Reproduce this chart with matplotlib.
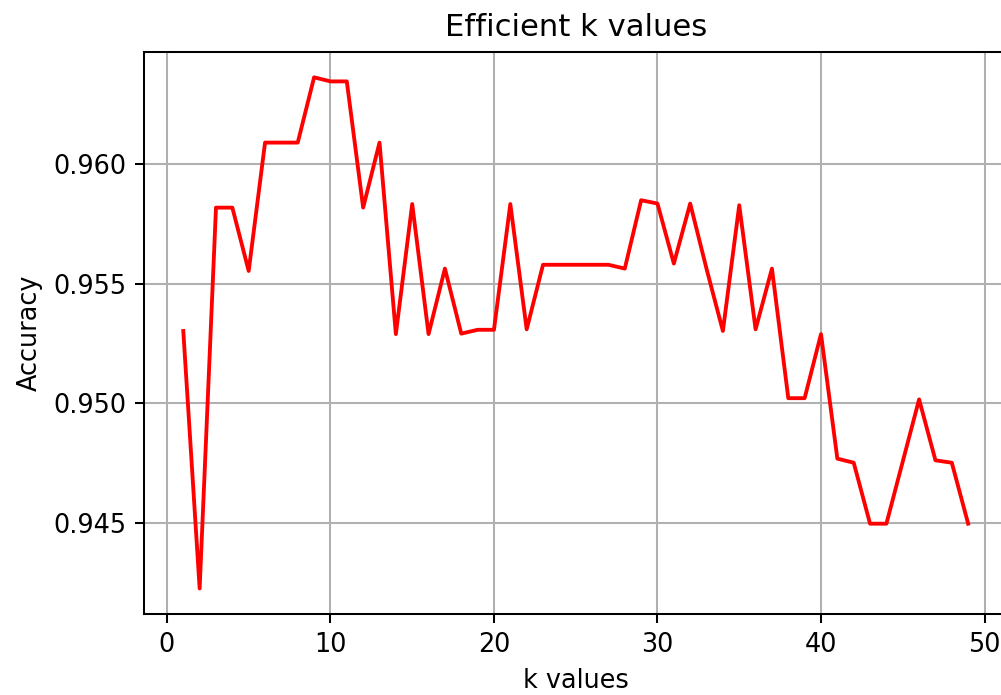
import numpy as np
import matplotlib
matplotlib.use("Agg")
import matplotlib.pyplot as plt

# accuracy of the classifier for each k
k_values = list(range(1, 50))
accuracy = [
    0.95302, 0.94225, 0.95818, 0.95818, 0.95553, 0.96090, 0.96090, 0.96090,
    0.96363, 0.96346, 0.96346, 0.95818, 0.96090, 0.95289, 0.95833, 0.95289,
    0.95563, 0.95291, 0.95307, 0.95307, 0.95833, 0.95309, 0.95579, 0.95579,
    0.95579, 0.95579, 0.95579, 0.95563, 0.95849, 0.95835, 0.95584, 0.95835,
    0.95562, 0.95302, 0.95828, 0.95309, 0.95563, 0.95021, 0.95021, 0.95289,
    0.94768, 0.94751, 0.94496, 0.94496, 0.94756, 0.95016, 0.94761, 0.94751,
    0.94496,
]

fig = plt.figure(figsize=(1001 / 184, 695 / 184), dpi=184)
ax = fig.add_axes([0.1439, 0.1165, 0.8625, 0.809])

ax.plot(k_values, accuracy, color="red")
ax.set_title("Efficient k values")
ax.set_xlabel("k values")
ax.set_ylabel("Accuracy")
ax.grid(True)

fig.savefig("out.png", dpi=184)
